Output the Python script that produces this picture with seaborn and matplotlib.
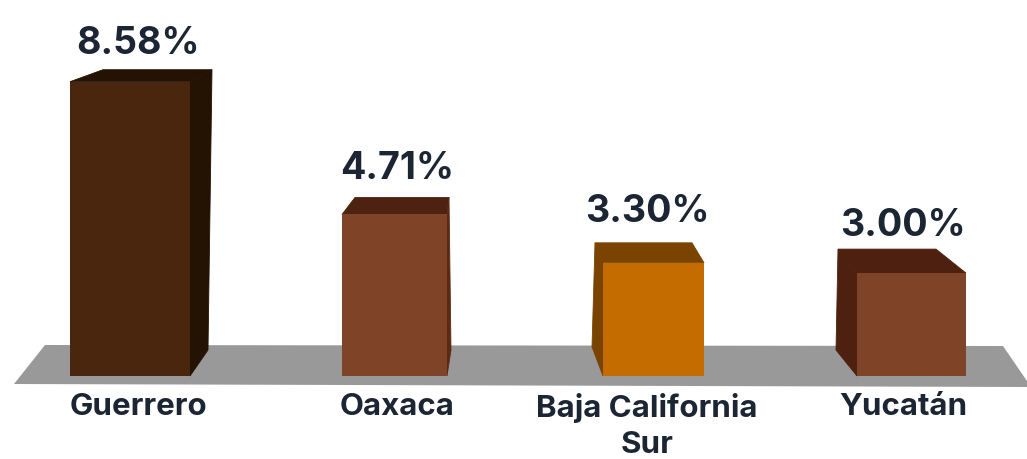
import matplotlib
matplotlib.use("Agg")
import matplotlib.pyplot as plt
from matplotlib.patches import Polygon
import seaborn as sns

states = ['Guerrero', 'Oaxaca', 'Baja California\nSur', 'Yucatán']
values = [8.58, 4.71, 3.30, 3.00]
value_labels = ['8.58%', '4.71%', '3.30%', '3.00%']

front_colors = ['#4a260f', '#7f4428', '#c46c00', '#7f4428']
top_colors = ['#241203', '#4e2210', '#7a4400', '#4e2010']
side_colors = ['#241203', '#5a2a14', '#7a4400', '#4e2010']

# bar tweaks in pixels, the original is not evenly spaced
bar_nudge = [0, 4, 2.5, 0]
bar_width = [120, 105, 101, 109]
label_nudge = [8, 6.5, -4, -8.5]
label_gap = [28, 35, 41, 37]

# fake 3d: top back-left, top back-right, bottom back corner, which side
depth = [
    ((33, 12), (22, 12), (18, 26), 'right'),
    ((13, 17), (2, 17), (4, 26), 'right'),
    ((-8, 20), (-12, 20), (-11, 29), 'left'),
    ((-19, 24), (-30, 24), (-21, 26), 'left'),
]

TEXT = '#1c2533'
STEP = 260.5
H, W = 459, 1027

sns.set_theme(style="white")
plt.rcParams['font.family'] = ['Inter', 'DejaVu Sans']

fig = plt.figure(figsize=(W / 100, H / 100), dpi=100)
ax = fig.add_axes([0, 83 / H, 1, 376 / H])

sns.barplot(x=states, y=values, hue=states, palette=front_colors, legend=False,
            saturation=1, ax=ax)
ax.set_xlim(-130 / STEP, (W - 130) / STEP)
ax.set_ylim(0, 376 / 34.3)
sns.despine(left=True, bottom=True)
ax.set_yticks([])
ax.patch.set_alpha(0)

bars = ax.patches
for i, bar in enumerate(bars):
    w = bar_width[i] / STEP
    bar.set_width(w)
    bar.set_x(i + bar_nudge[i] / STEP - w / 2)
    bar.set_zorder(3)
    bar.set_linewidth(0)

ax.set_xticks([i + n / STEP for i, n in enumerate(label_nudge)])
ax.set_xticklabels(states, fontsize=22.5, fontweight='bold', color=TEXT, linespacing=1.4)
ax.tick_params(axis='x', length=0, pad=12)

# floor, in screen pixels
floor = [(14, H - 384), (45, H - 345), (1003, H - 346), (W + 2, H - 384), (W + 2, H - 387)]
fig.add_artist(Polygon(floor, closed=True, transform=None, fc='#999999', ec='none', zorder=0))
ax.set_zorder(2)

for i, bar in enumerate(bars):
    (x0, y0) = ax.transData.transform((bar.get_x(), 0))
    (x1, y1) = ax.transData.transform((bar.get_x() + bar.get_width(), bar.get_height()))
    back_l, back_r, back_b, side = depth[i]
    tl_back = (x0 + back_l[0], y1 + back_l[1])
    tr_back = (x1 + back_r[0], y1 + back_r[1])
    ax.add_patch(Polygon([(x0, y1), tl_back, tr_back, (x1, y1)], closed=True, transform=None,
                         fc=top_colors[i], ec=top_colors[i], lw=0.6, zorder=2, clip_on=False))
    if side == 'right':
        pts = [(x1, y1), tr_back, (x1 + back_b[0], y0 + back_b[1]), (x1, y0)]
    else:
        pts = [(x0, y1), tl_back, (x0 + back_b[0], y0 + back_b[1]), (x0, y0)]
    ax.add_patch(Polygon(pts, closed=True, transform=None, fc=side_colors[i], ec=side_colors[i],
                         lw=0.6, zorder=2, clip_on=False))
    ax.annotate(value_labels[i], xy=(i + label_nudge[i] / STEP, values[i]),
                xytext=(0, label_gap[i] * 0.72), textcoords='offset points',
                ha='center', va='baseline', fontsize=27, fontweight='bold', color=TEXT,
                annotation_clip=False, zorder=5)

fig.savefig('out.png', dpi=100, facecolor='white')
